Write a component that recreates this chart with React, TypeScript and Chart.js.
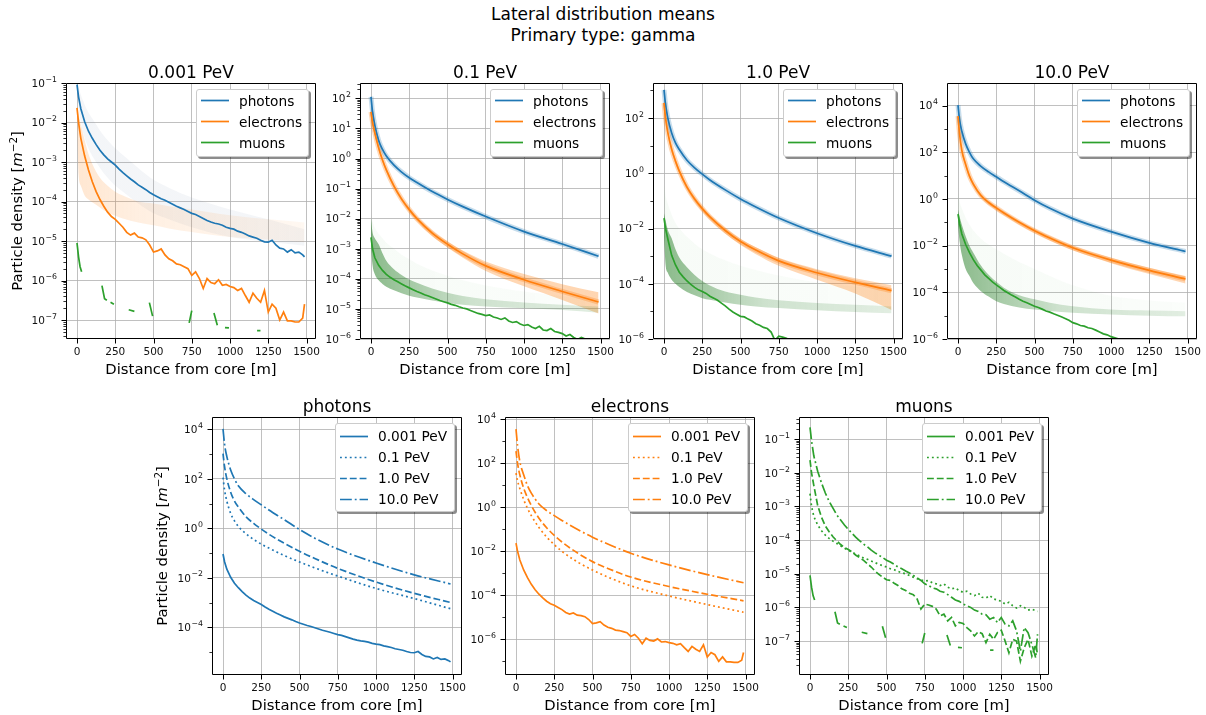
import React, { useEffect, useRef } from "react";
import { Chart, registerables } from "chart.js";

Chart.register(...registerables);

// ---------------- data (densities given as log10 of m^-2) ----------------
const SMOOTH_X = [0, 10, 25, 50, 75, 100, 150, 200, 250, 300, 400, 500, 600, 750, 1000, 1250, 1487];
const FINE_X = [0, 10, 25, 50, 75, 100, 125, 150, 175, 200, 225, 250, 275, 300, 325, 350, 375, 400, 425, 450, 475, 500, 525, 550, 575, 600, 625, 650, 675, 700, 725, 750, 775, 800, 825, 850, 875, 900, 925, 950, 975, 1000, 1025, 1050, 1075, 1100, 1125, 1150, 1175, 1200, 1225, 1250, 1275, 1300, 1325, 1350, 1375, 1400, 1425, 1450, 1475, 1487];
const X_TICKS = [0, 250, 500, 750, 1000, 1250, 1500];
const ENERGIES = ["0.001 PeV", "0.1 PeV", "1.0 PeV", "10.0 PeV"];
const SPECIES = ["photons", "electrons", "muons"];

// photons means
const photons_0p001 = [-1.04, -1.35, -1.65, -1.98, -2.22, -2.4, -2.56, -2.7, -2.82, -2.92, -3.0, -3.08, -3.18, -3.27, -3.35, -3.43, -3.5, -3.58, -3.64, -3.7, -3.77, -3.83, -3.88, -3.93, -3.97, -4.02, -4.07, -4.12, -4.16, -4.2, -4.25, -4.3, -4.33, -4.38, -4.43, -4.48, -4.52, -4.55, -4.57, -4.6, -4.65, -4.68, -4.7, -4.75, -4.78, -4.82, -4.87, -4.9, -4.93, -4.98, -5.02, -5.03, -4.98, -5.1, -5.18, -5.2, -5.28, -5.22, -5.3, -5.28, -5.35, -5.4];
const photons_0p1 = [2.05, 1.55, 1.1, 0.6, 0.3, 0.08, -0.22, -0.45, -0.64, -0.8, -1.1, -1.36, -1.6, -1.93, -2.43, -2.84, -3.25];
const photons_1 = [3.02, 2.5, 2.0, 1.46, 1.1, 0.86, 0.47, 0.2, -0.03, -0.24, -0.6, -0.93, -1.22, -1.62, -2.17, -2.63, -3.0];
const photons_10 = [4.02, 3.4, 2.9, 2.36, 2.0, 1.72, 1.4, 1.16, 0.95, 0.74, 0.35, -0.05, -0.4, -0.84, -1.4, -1.88, -2.25];

// electrons means
const electrons_0p001 = [-1.63, -2.0, -2.4, -2.85, -3.2, -3.5, -3.75, -3.95, -4.12, -4.27, -4.38, -4.45, -4.55, -4.65, -4.78, -4.85, -4.8, -4.9, -4.92, -4.97, -5.1, -5.28, -5.25, -5.2, -5.35, -5.45, -5.5, -5.58, -5.6, -5.65, -5.7, -5.87, -5.78, -5.95, -6.2, -5.95, -6.05, -6.08, -5.98, -6.12, -6.1, -6.15, -6.18, -6.25, -6.2, -6.38, -6.55, -6.32, -6.45, -6.55, -6.25, -6.8, -6.6, -6.7, -7.0, -6.8, -7.02, -7.02, -7.05, -7.05, -6.95, -6.6];
const electrons_0p1 = [1.55, 1.2, 0.85, 0.35, -0.05, -0.38, -0.92, -1.35, -1.7, -2.0, -2.48, -2.85, -3.17, -3.57, -4.03, -4.42, -4.77];
const electrons_1 = [2.55, 2.0, 1.47, 0.87, 0.44, 0.08, -0.5, -0.93, -1.28, -1.58, -2.07, -2.47, -2.78, -3.17, -3.6, -3.95, -4.25];
const electrons_10 = [3.55, 2.8, 2.08, 1.48, 0.98, 0.64, 0.15, -0.15, -0.38, -0.6, -1.0, -1.36, -1.67, -2.09, -2.62, -3.06, -3.43];

// muons means
const muons_0p001_x = [0, 10, 20, 30, 100, 163, 180, 195, 207, 219, 241, 300, 338, 375, 420, 473, 494, 600, 733, 750, 820, 895, 917, 940, 967, 993, 1100, 1177, 1199];
const muons_0p001 = [-5.05, -5.4, -5.65, -5.78, null, -6.13, -6.46, -6.5, null, -6.55, -6.6, null, -6.74, -6.78, null, -6.56, -6.9, null, -7.07, -6.76, null, -6.82, -7.13, null, -7.19, -7.2, null, -7.27, -7.27];
const muons_0p1 = [-2.62, -3.0, -3.3, -3.55, -3.72, -3.85, -3.95, -4.03, -4.1, -4.17, -4.24, -4.3, -4.36, -4.42, -4.47, -4.53, -4.57, -4.62, -4.67, -4.72, -4.76, -4.8, -4.85, -4.88, -4.93, -4.97, -5.0, -5.05, -5.1, -5.15, -5.18, -5.22, -5.2, -5.27, -5.3, -5.35, -5.3, -5.4, -5.45, -5.42, -5.5, -5.55, -5.52, -5.6, -5.65, -5.58, -5.7, -5.72, -5.65, -5.75, -5.78, -5.82, -5.9, -5.85, -5.95, -6.02, -5.95, -6.0, -6.08, -6.05, -6.1, -6.12];
const muons_1 = [-1.62, -2.0, -2.38, -2.97, -3.32, -3.58, -3.75, -3.9, -4.02, -4.13, -4.22, -4.28, -4.35, -4.45, -4.52, -4.6, -4.7, -4.8, -4.92, -5.02, -5.1, -5.18, -5.2, -5.28, -5.35, -5.45, -5.5, -5.58, -5.62, -5.75, -6.05, -5.9, -5.93, -5.97, -6.05, -6.25, -6.2, -6.4, -6.3, -6.55, -6.45, -6.48, -6.6, -6.7, -6.85, -6.72, -6.78, -7.05, -6.8, -6.95, -6.75, -6.68, -7.0, -7.35, -6.95, -7.0, -7.6, -7.2, -6.95, -7.45, -7.1, -7.4];
const muons_10 = [-0.65, -1.05, -1.5, -1.95, -2.3, -2.6, -2.85, -3.05, -3.25, -3.4, -3.55, -3.68, -3.8, -3.92, -4.02, -4.12, -4.2, -4.3, -4.38, -4.45, -4.52, -4.6, -4.65, -4.72, -4.8, -4.85, -4.92, -4.98, -5.05, -5.12, -5.2, -5.3, -5.35, -5.42, -5.45, -5.52, -5.55, -5.62, -5.7, -5.78, -5.82, -5.9, -5.95, -6.0, -6.08, -6.12, -6.2, -6.22, -6.35, -6.3, -6.45, -6.3, -6.5, -6.55, -6.4, -6.7, -7.3, -6.6, -6.75, -7.1, -7.5, -6.8];

// spread of the individual showers (upper / lower envelopes, SMOOTH_X)
const spread_0p001_photons_hi = [-0.95, -1.1, -1.3, -1.55, -1.75, -1.9, -2.2, -2.45, -2.65, -2.82, -3.15, -3.45, -3.65, -3.9, -4.2, -4.45, -4.7];
const spread_0p001_photons_lo = [-1.2, -1.6, -2.0, -2.4, -2.65, -2.85, -3.15, -3.4, -3.6, -3.75, -4.05, -4.3, -4.45, -4.65, -4.9, -5.02, -5.12];
const spread_0p001_electrons_hi = [-1.6, -1.8, -2.05, -2.45, -2.8, -3.05, -3.4, -3.6, -3.75, -3.85, -4.0, -4.05, -4.12, -4.2, -4.35, -4.45, -4.53];
const spread_0p001_electrons_lo = [-1.7, -3.3, -3.6, -3.85, -3.95, -4.02, -4.15, -4.28, -4.36, -4.43, -4.53, -4.6, -4.68, -4.77, -4.9, -4.96, -5.03];

const spread_0p1_electrons_hi = [1.62, 1.27, 0.92, 0.42, 0.02, -0.31, -0.85, -1.28, -1.63, -1.93, -2.4, -2.76, -3.06, -3.42, -3.84, -4.18, -4.45];
const spread_0p1_electrons_lo = [1.48, 1.13, 0.78, 0.28, -0.12, -0.45, -0.99, -1.42, -1.78, -2.08, -2.58, -2.96, -3.3, -3.74, -4.25, -4.7, -5.15];
const spread_0p1_muons_haze = [-1.9, -2.1, -2.3, -2.5, -2.65, -2.8, -3.0, -3.2, -3.35, -3.5, -3.72, -3.9, -4.05, -4.22, -4.42, -4.58, -4.7];
const spread_0p1_muons_hi = [-2.0, -2.45, -2.65, -2.85, -3.15, -3.4, -3.68, -3.87, -4.02, -4.13, -4.32, -4.46, -4.57, -4.68, -4.79, -4.86, -4.92];
const spread_0p1_muons_lo = [-2.95, -3.55, -3.85, -4.05, -4.17, -4.26, -4.38, -4.48, -4.56, -4.62, -4.72, -4.8, -4.86, -4.92, -4.98, -5.04, -5.13];

const spread_1_electrons_hi = [2.62, 2.08, 1.55, 0.95, 0.52, 0.16, -0.42, -0.85, -1.2, -1.5, -1.98, -2.38, -2.68, -3.06, -3.47, -3.8, -4.05];
const spread_1_electrons_lo = [2.45, 1.9, 1.37, 0.77, 0.34, -0.02, -0.6, -1.03, -1.38, -1.68, -2.18, -2.6, -2.93, -3.35, -3.85, -4.35, -4.95];
const spread_1_muons_haze = [-0.4, -0.8, -1.1, -1.5, -1.8, -2.0, -2.3, -2.55, -2.75, -2.9, -3.15, -3.35, -3.5, -3.7, -3.95, -4.1, -4.2];
const spread_1_muons_hi = [-1.45, -1.7, -2.05, -2.35, -2.75, -3.05, -3.4, -3.68, -3.9, -4.06, -4.28, -4.4, -4.5, -4.6, -4.7, -4.76, -4.82];
const spread_1_muons_lo = [-2.3, -3.3, -3.6, -3.85, -4.0, -4.12, -4.3, -4.42, -4.52, -4.58, -4.68, -4.76, -4.82, -4.88, -4.96, -5.02, -5.07];

const spread_10_electrons_hi = [3.62, 2.88, 2.15, 1.55, 1.05, 0.71, 0.22, -0.08, -0.31, -0.53, -0.93, -1.28, -1.59, -2.0, -2.52, -2.95, -3.3];
const spread_10_electrons_lo = [3.45, 2.7, 1.98, 1.38, 0.88, 0.54, 0.05, -0.25, -0.48, -0.7, -1.1, -1.46, -1.78, -2.2, -2.75, -3.22, -3.62];
const spread_10_muons_haze = [0.3, -0.1, -0.4, -0.8, -1.1, -1.35, -1.7, -1.95, -2.15, -2.35, -2.7, -3.0, -3.3, -3.7, -4.15, -4.35, -4.45];
const spread_10_muons_hi = [-0.45, -0.75, -1.1, -1.6, -2.0, -2.3, -2.85, -3.25, -3.55, -3.8, -4.12, -4.3, -4.45, -4.6, -4.74, -4.78, -4.81];
const spread_10_muons_lo = [-1.1, -1.8, -2.4, -3.0, -3.3, -3.6, -3.95, -4.18, -4.38, -4.5, -4.65, -4.74, -4.8, -4.88, -4.95, -5.0, -5.03];

// ---------------- styles ----------------
const FONT = "DejaVu Sans";
const BLUE = "#1f77b4";
const ORANGE = "#ff7f0e";
const GREEN = "#2ca02c";
const DARK_GREEN = "#1e7a1e";
const GRID = "#b0b0b0";
const LW = 1.7;
const DOT = [1.85, 3.05];
const DASH = [6.85, 2.96];
const DASHDOT = [11.8, 2.96, 1.85, 2.96];
const STYLES = [[], DOT, DASH, DASHDOT];

const X_MIN = -72;
const X_MAX = 1562;
const W = 250;
const ML = 56;
const MR = 22;
const MT = 8;
const MB = 28;
const TICK_FONT = 10.5;
const EXP_FONT = 7.8;

const rgba = (hex: string, a: number) => {
  const n = parseInt(hex.slice(1), 16);
  return `rgba(${(n >> 16) & 255},${(n >> 8) & 255},${n & 255},${a})`;
};

const pts = (xs: number[], logs: (number | null)[]) =>
  xs.map((x, i) => ({ x, y: logs[i] === null || logs[i] === undefined ? null : Math.pow(10, logs[i] as number) }));

function meanLine(xs: number[], logs: (number | null)[], color: string, dash: number[], order: number) {
  return {
    data: pts(xs, logs),
    borderColor: color,
    backgroundColor: color,
    borderWidth: LW,
    borderDash: dash,
    pointRadius: 0,
    fill: false,
    order,
    tension: 0,
    cubicInterpolationMode: xs === SMOOTH_X ? "monotone" : "default",
    spanGaps: false,
  };
}

function halo(xs: number[], logs: number[], color: string, alpha: number, width: number) {
  return {
    data: pts(xs, logs),
    borderColor: rgba(color, alpha),
    borderWidth: width,
    pointRadius: 0,
    fill: false,
    order: 5,
    cubicInterpolationMode: xs === SMOOTH_X ? "monotone" : "default",
  };
}

// stops: [position along the x axis (0..1), alpha]
function band(hi: number[], lo: number[], color: string, stops: number[][], order: number) {
  const bg = (c: any) => {
    const chart = c.chart;
    const a = chart && chart.chartArea;
    if (!a) return rgba(color, stops[0][1]);
    const g = chart.ctx.createLinearGradient(a.left, 0, a.right, 0);
    for (const [pos, al] of stops) g.addColorStop(pos, rgba(color, al));
    return g;
  };
  return [
    { data: pts(SMOOTH_X, hi), borderColor: "transparent", borderWidth: 0, pointRadius: 0, fill: false, order, cubicInterpolationMode: "monotone" },
    { data: pts(SMOOTH_X, lo), borderColor: "transparent", borderWidth: 0, pointRadius: 0, fill: "-1", backgroundColor: bg, order, cubicInterpolationMode: "monotone" },
  ];
}

const range = (a: number, b: number, s = 1) => {
  const r: number[] = [];
  for (let v = a; v <= b; v += s) r.push(v);
  return r;
};
const subMinors = (d0: number, d1: number) => {
  const r: number[] = [];
  for (let d = d0; d <= d1; d++) for (let s = 2; s <= 9; s++) r.push(s * Math.pow(10, d));
  return r;
};
const decMinors = (list: number[]) => list.map((e) => Math.pow(10, e));

// ---------------- panels ----------------
const TOP_LEFTS = [66, 360, 653, 947];
const BOT_LEFTS = [212, 505, 799];
const TOP_Y = 83;
const TOP_H = 256;
const BOT_Y = 417;
const BOT_H = 258;

const topLegend = SPECIES.map((s, i) => ({ label: s, color: [BLUE, ORANGE, GREEN][i], dash: [] as number[] }));

const GREEN_STOPS = [[0, 0.55], [0.2, 0.4], [0.45, 0.22], [1, 0.12]];
const HAZE_STOPS = [[0, 0.04], [1, 0.02]];
const ORANGE_STOPS = [[0, 0.3], [1, 0.32]];

const PANELS: any[] = [
  {
    title: ENERGIES[0], left: TOP_LEFTS[0], top: TOP_Y, h: TOP_H, yMin: -7.48, yMax: -1.0,
    majors: range(-7, -1), minors: subMinors(-8, -2), ylabel: true, legend: topLegend, legendW: 113, legendH: 68, legendPad: 0,
    datasets: [
      meanLine(FINE_X, photons_0p001, BLUE, [], 2),
      meanLine(FINE_X, electrons_0p001, ORANGE, [], 1),
      meanLine(muons_0p001_x, muons_0p001, GREEN, [], 0),
      ...band(spread_0p001_photons_hi, spread_0p001_photons_lo, "#6f86a8", [[0, 0.08], [1, 0.08]], 12),
      ...band(spread_0p001_electrons_hi, spread_0p001_electrons_lo, ORANGE, [[0, 0.2], [0.3, 0.12], [1, 0.05]], 11),
    ],
  },
  {
    title: ENERGIES[1], left: TOP_LEFTS[1], top: TOP_Y, h: TOP_H, yMin: -6, yMax: 2.51,
    majors: range(-6, 2), minors: subMinors(-7, 2), legend: topLegend, legendW: 113, legendH: 68, legendPad: 0,
    datasets: [
      meanLine(SMOOTH_X, photons_0p1, BLUE, [], 2),
      meanLine(SMOOTH_X, electrons_0p1, ORANGE, [], 1),
      meanLine(FINE_X, muons_0p1, GREEN, [], 0),
      halo(SMOOTH_X, photons_0p1, BLUE, 0.25, 5),
      halo(SMOOTH_X, electrons_0p1, ORANGE, 0.3, 5),
      ...band(spread_0p1_muons_haze, spread_0p1_muons_hi, GREEN, HAZE_STOPS, 13),
      ...band(spread_0p1_muons_hi, spread_0p1_muons_lo, DARK_GREEN, GREEN_STOPS, 11),
      ...band(spread_0p1_electrons_hi, spread_0p1_electrons_lo, ORANGE, ORANGE_STOPS, 12),
    ],
  },
  {
    title: ENERGIES[2], left: TOP_LEFTS[2], top: TOP_Y, h: TOP_H, yMin: -6, yMax: 3.27,
    majors: range(-6, 2, 2), minors: decMinors([-5, -3, -1, 1, 3]), legend: topLegend, legendW: 113, legendH: 68, legendPad: 0,
    datasets: [
      meanLine(SMOOTH_X, photons_1, BLUE, [], 2),
      meanLine(SMOOTH_X, electrons_1, ORANGE, [], 1),
      meanLine(FINE_X, muons_1, GREEN, [], 0),
      halo(SMOOTH_X, photons_1, BLUE, 0.25, 5),
      halo(SMOOTH_X, electrons_1, ORANGE, 0.3, 5),
      ...band(spread_1_muons_haze, spread_1_muons_hi, GREEN, HAZE_STOPS, 13),
      ...band(spread_1_muons_hi, spread_1_muons_lo, DARK_GREEN, GREEN_STOPS, 11),
      ...band(spread_1_electrons_hi, spread_1_electrons_lo, ORANGE, ORANGE_STOPS, 12),
    ],
  },
  {
    title: ENERGIES[3], left: TOP_LEFTS[3], top: TOP_Y, h: TOP_H, yMin: -6, yMax: 4.97,
    majors: range(-6, 4, 2), minors: decMinors([-5, -3, -1, 1, 3]), legend: topLegend, legendW: 113, legendH: 68, legendPad: 0,
    datasets: [
      meanLine(SMOOTH_X, photons_10, BLUE, [], 2),
      meanLine(SMOOTH_X, electrons_10, ORANGE, [], 1),
      meanLine(FINE_X, muons_10, GREEN, [], 0),
      halo(SMOOTH_X, photons_10, BLUE, 0.25, 5),
      halo(SMOOTH_X, electrons_10, ORANGE, 0.3, 5),
      ...band(spread_10_muons_haze, spread_10_muons_hi, GREEN, HAZE_STOPS, 13),
      ...band(spread_10_muons_hi, spread_10_muons_lo, DARK_GREEN, GREEN_STOPS, 11),
      ...band(spread_10_electrons_hi, spread_10_electrons_lo, ORANGE, ORANGE_STOPS, 12),
    ],
  },
  {
    title: SPECIES[0], left: BOT_LEFTS[0], top: BOT_Y, h: BOT_H, yMin: -5.93, yMax: 4.5,
    majors: range(-4, 4, 2), minors: decMinors([-5, -3, -1, 1, 3]), ylabel: true,
    legend: ENERGIES.map((e, i) => ({ label: e, color: BLUE, dash: STYLES[i] })), legendW: 120, legendH: 89, legendPad: 1.5,
    datasets: [
      meanLine(FINE_X, photons_0p001, BLUE, [], 0),
      meanLine(SMOOTH_X, photons_0p1, BLUE, DOT, 1),
      meanLine(SMOOTH_X, photons_1, BLUE, DASH, 2),
      meanLine(SMOOTH_X, photons_10, BLUE, DASHDOT, 3),
    ],
  },
  {
    title: SPECIES[1], left: BOT_LEFTS[1], top: BOT_Y, h: BOT_H, yMin: -7.62, yMax: 4.1,
    majors: range(-6, 4, 2), minors: decMinors([-7, -5, -3, -1, 1, 3]),
    legend: ENERGIES.map((e, i) => ({ label: e, color: ORANGE, dash: STYLES[i] })), legendW: 120, legendH: 89, legendPad: 1.5,
    datasets: [
      meanLine(FINE_X, electrons_0p001, ORANGE, [], 0),
      meanLine(SMOOTH_X, electrons_0p1, ORANGE, DOT, 1),
      meanLine(SMOOTH_X, electrons_1, ORANGE, DASH, 2),
      meanLine(SMOOTH_X, electrons_10, ORANGE, DASHDOT, 3),
    ],
  },
  {
    title: SPECIES[2], left: BOT_LEFTS[2], top: BOT_Y, h: BOT_H, yMin: -8.01, yMax: -0.34,
    majors: range(-7, -1), minors: subMinors(-9, -1),
    legend: ENERGIES.map((e, i) => ({ label: e, color: GREEN, dash: STYLES[i] })), legendW: 120, legendH: 89, legendPad: 1.5,
    datasets: [
      meanLine(muons_0p001_x, muons_0p001, GREEN, [], 0),
      meanLine(FINE_X, muons_0p1, GREEN, DOT, 1),
      meanLine(FINE_X, muons_1, GREEN, DASH, 2),
      meanLine(FINE_X, muons_10, GREEN, DASHDOT, 3),
    ],
  },
];

// ---------------- chart plumbing ----------------
const framePlugin = {
  id: "frame",
  afterDraw(chart: any, _args: any, opts: any) {
    const { ctx, chartArea: a } = chart;
    const xs = chart.scales.x;
    const ys = chart.scales.y;
    ctx.save();
    ctx.strokeStyle = "#000";
    ctx.lineWidth = 1;
    ctx.beginPath();
    ctx.rect(a.left + 0.5, a.top + 0.5, a.right - a.left - 1, a.bottom - a.top - 1);
    ctx.stroke();
    ctx.beginPath();
    for (const v of X_TICKS) {
      const p = Math.round(xs.getPixelForValue(v)) + 0.5;
      ctx.moveTo(p, a.bottom);
      ctx.lineTo(p, a.bottom + 4.5);
    }
    for (const e of opts.majors) {
      const p = Math.round(ys.getPixelForValue(Math.pow(10, e))) + 0.5;
      ctx.moveTo(a.left, p);
      ctx.lineTo(a.left - 4.5, p);
    }
    ctx.stroke();
    ctx.beginPath();
    ctx.lineWidth = 0.8;
    const lo = ys.min;
    const hi = ys.max;
    for (const v of opts.minors) {
      if (v < lo || v > hi) continue;
      const p = Math.round(ys.getPixelForValue(v)) + 0.5;
      ctx.moveTo(a.left, p);
      ctx.lineTo(a.left - 2.6, p);
    }
    ctx.stroke();
    // y tick labels: 10 with a raised exponent
    ctx.fillStyle = "#111";
    ctx.textAlign = "left";
    ctx.textBaseline = "alphabetic";
    for (const e of opts.majors) {
      const py = ys.getPixelForValue(Math.pow(10, e));
      const base = "10";
      const ex = e < 0 ? "\u2212" + String(-e) : String(e);
      ctx.font = `${TICK_FONT}px "${FONT}"`;
      const wb = ctx.measureText(base).width;
      ctx.font = `${EXP_FONT}px "${FONT}"`;
      const we = ctx.measureText(ex).width;
      const x0 = a.left - 9 - wb - we - 0.6;
      ctx.font = `${TICK_FONT}px "${FONT}"`;
      ctx.fillText(base, x0, py + 3.8);
      ctx.font = `${EXP_FONT}px "${FONT}"`;
      ctx.fillText(ex, x0 + wb + 0.6, py + 3.8 - 5.1);
    }
    ctx.restore();
  },
};

function ChartPanel({ p }: { p: any }) {
  const ref = useRef<HTMLCanvasElement>(null);
  const cw = ML + W + MR;
  const ch = MT + p.h + MB;
  useEffect(() => {
    const chart = new Chart(ref.current as HTMLCanvasElement, {
      type: "line",
      data: { datasets: p.datasets },
      options: {
        animation: false,
        responsive: false,
        maintainAspectRatio: false,
        devicePixelRatio: 1,
        events: [],
        layout: { padding: { left: 0, top: MT, right: MR, bottom: 0 } },
        plugins: {
          legend: { display: false },
          tooltip: { enabled: false },
          frame: { majors: p.majors, minors: p.minors },
        },
        scales: {
          x: {
            type: "linear",
            min: X_MIN,
            max: X_MAX,
            bounds: "data",
            afterBuildTicks: (s: any) => {
              s.ticks = X_TICKS.map((v) => ({ value: v }));
            },
            afterFit: (s: any) => {
              s.height = MB;
              s.paddingLeft = 0;
              s.paddingRight = 0;
            },
            ticks: {
              callback: (v: any) => String(v),
              font: { family: FONT, size: TICK_FONT },
              color: "#111",
              padding: 7,
              maxRotation: 0,
              minRotation: 0,
              autoSkip: false,
            },
            grid: { color: GRID, lineWidth: 0.8, drawTicks: false },
            border: { display: false },
          },
          y: {
            type: "logarithmic",
            min: Math.pow(10, p.yMin),
            max: Math.pow(10, p.yMax),
            bounds: "data",
            afterBuildTicks: (s: any) => {
              s.ticks = p.majors.map((e: number) => ({ value: Math.pow(10, e) }));
            },
            afterFit: (s: any) => {
              s.width = ML;
              s.paddingTop = 0;
              s.paddingBottom = 0;
            },
            ticks: { display: false, autoSkip: false },
            grid: { color: GRID, lineWidth: 0.8, drawTicks: false },
            border: { display: false },
          },
        },
      } as any,
      plugins: [framePlugin as any],
    });
    return () => chart.destroy();
  }, []);
  return (
    <canvas
      ref={ref}
      width={cw}
      height={ch}
      style={{ position: "absolute", left: p.left - ML, top: p.top - MT, width: cw, height: ch }}
    />
  );
}

function Legend({ p }: { p: any }) {
  const right = p.left + W - 7;
  return (
    <div
      style={{
        position: "absolute",
        left: right - p.legendW,
        top: p.top + 6,
        width: p.legendW,
        height: p.legendH,
        boxSizing: "border-box",
        background: "#fff",
        border: "1px solid #cccccc",
        borderRadius: 3,
        boxShadow: "2px 2px 0 rgba(0,0,0,0.45)",
        paddingTop: p.legendPad,
        fontSize: 13.7,
      }}
    >
      {p.legend.map((it: any) => (
        <div key={it.label} style={{ display: "flex", alignItems: "center", height: 21, whiteSpace: "nowrap" }}>
          <svg width={42} height={21} style={{ flex: "none" }}>
            <line x1={4} x2={32} y1={10.5} y2={10.5} stroke={it.color} strokeWidth={LW} strokeDasharray={it.dash.join(" ")} />
          </svg>
          <span>{it.label}</span>
        </div>
      ))}
    </div>
  );
}

function Texts({ p }: { p: any }) {
  const cx = p.left + W / 2;
  return (
    <>
      <div style={{ position: "absolute", left: cx - 100, width: 200, top: p.top - 21, textAlign: "center", fontSize: 17, lineHeight: "20px", whiteSpace: "nowrap" }}>
        {p.title}
      </div>
      <div style={{ position: "absolute", left: cx - 120, width: 240, top: p.top + p.h + 21, textAlign: "center", fontSize: 14.8, lineHeight: "18px", whiteSpace: "nowrap" }}>
        Distance from core [m]
      </div>
      {p.ylabel ? (
        <div
          style={{
            position: "absolute",
            left: (p.left === TOP_LEFTS[0] ? 17 : 162) - 120,
            top: p.top + p.h / 2 - 9,
            width: 240,
            height: 18,
            lineHeight: "18px",
            textAlign: "center",
            fontSize: 14.8,
            whiteSpace: "nowrap",
            transform: "rotate(-90deg)",
            transformOrigin: "50% 50%",
          }}
        >
          Particle density [<i>m</i>
          <span style={{ fontSize: "0.7em", position: "relative", top: "-0.5em" }}>{"\u22122"}</span>]
        </div>
      ) : null}
    </>
  );
}

export default function App() {
  return (
    <div
      style={{
        position: "absolute",
        left: 0,
        top: 0,
        width: 1206,
        height: 715,
        background: "#fff",
        fontFamily: FONT,
        color: "#000",
        overflow: "hidden",
      }}
    >
      <div style={{ position: "absolute", left: 0, width: 1206, top: 4, textAlign: "center", fontSize: 17, lineHeight: "21px" }}>
        Lateral distribution means
        <br />
        Primary type: gamma
      </div>
      {PANELS.map((p, i) => (
        <ChartPanel key={"c" + i} p={p} />
      ))}
      {PANELS.map((p, i) => (
        <Texts key={"t" + i} p={p} />
      ))}
      {PANELS.map((p, i) => (
        <Legend key={"l" + i} p={p} />
      ))}
    </div>
  );
}
